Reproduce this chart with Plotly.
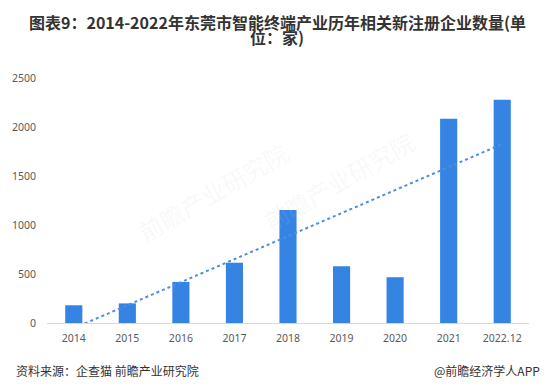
import numpy as np
import plotly.graph_objects as go

categories = ["2014", "2015", "2016", "2017", "2018", "2019", "2020", "2021", "2022.12"]
values = [181, 200, 419, 614, 1153, 580, 467, 2083, 2278]
y_ticks = [0, 500, 1000, 1500, 2000, 2500]

title_line1 = "图表9：2014-2022年东莞市智能终端产业历年相关新注册企业数量(单"
title_line2 = "位：家)"
source_text = "资料来源：企查猫 前瞻产业研究院"
brand_text = "@前瞻经济学人APP"

xi = np.arange(len(values))
slope, intercept = np.polyfit(xi, values, 1)
trend = slope * xi + intercept

fig = go.Figure()
fig.add_trace(go.Bar(x=categories, y=values, marker_color="#3584E4",
                     marker_line_width=0, showlegend=False))
fig.add_trace(go.Scatter(x=categories, y=trend, mode="lines",
                         line=dict(color="#4A8FE7", width=2, dash="dot"),
                         showlegend=False, cliponaxis=True))

tick_font = dict(size=10.5, color="#595959", family="Noto Sans, sans-serif")
title_font = dict(size=16, color="#333333", family="Noto Sans CJK SC, sans-serif", weight="bold")

fig.update_layout(
    width=547, height=390,
    margin=dict(l=40, r=18, t=78, b=67),
    paper_bgcolor="white", plot_bgcolor="white",
    font=dict(family="Noto Sans CJK SC, sans-serif", color="#595959", size=11),
    bargap=0.68,
    xaxis=dict(showline=True, linecolor="#D9D9D9", linewidth=1, ticks="",
               tickfont=tick_font, ticklabelstandoff=5),
    yaxis=dict(range=[0, 2500], tickvals=y_ticks, showgrid=False, zeroline=False,
               showline=False, ticks="", ticklabelstandoff=10,
               tickfont=tick_font),
    annotations=[
        dict(text=title_line1, xref="paper", yref="paper", x=0.5, xshift=-11,
             y=1, yshift=56, xanchor="center", yanchor="middle", showarrow=False,
             font=title_font),
        dict(text=title_line2, xref="paper", yref="paper", x=0.5, xshift=-11,
             y=1, yshift=41, xanchor="center", yanchor="middle", showarrow=False,
             font=title_font),
        dict(text=source_text, xref="paper", yref="paper", x=0, xshift=-33,
             y=0, yshift=-67 + 20, xanchor="left", yanchor="middle", showarrow=False,
             font=dict(size=12, color="#333333")),
        dict(text=brand_text, xref="paper", yref="paper", x=1, xshift=13,
             y=0, yshift=-67 + 20, xanchor="right", yanchor="middle", showarrow=False,
             font=dict(size=12, color="#333333")),
        dict(text="前瞻产业研究院", xref="paper", yref="paper", x=0.17, y=0.78,
             showarrow=False, textangle=-30,
             font=dict(size=24, color="rgba(200,200,200,0.12)")),
        dict(text="前瞻产业研究院", xref="paper", yref="paper", x=0.78, y=0.58,
             showarrow=False, textangle=-30,
             font=dict(size=24, color="rgba(200,200,200,0.12)")),
    ],
)

fig.write_html("out.html", config={"displayModeBar": False})
with open("out.html", "r", encoding="utf-8") as f:
    html = f.read()
html = html.replace("<head>", "<head><style>html,body{margin:0;padding:0;overflow:hidden;}</style>", 1)
with open("out.html", "w", encoding="utf-8") as f:
    f.write(html)
